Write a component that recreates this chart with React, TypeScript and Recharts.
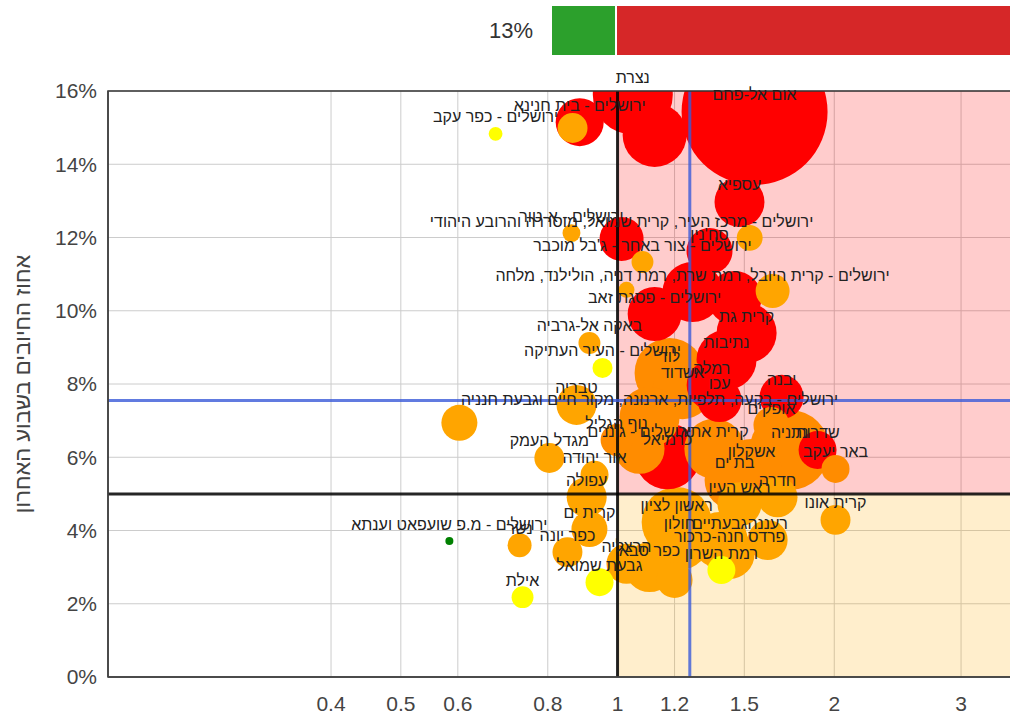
import React from 'react';
import {
  ScatterChart,
  Scatter,
  XAxis,
  YAxis,
  ZAxis,
  CartesianGrid,
  ReferenceArea,
  ReferenceLine,
  Cell,
  BarChart,
  Bar,
  LabelList
} from 'recharts';

// towns and their values (x = transmission ratio, y = share of positive tests, size = active cases)
const towns = [
  'נצרת',
  'ירושלים - בית חנינא',
  'ירושלים - כפר עקב',
  '',
  'אום אל-פחם',
  '',
  'עספיא',
  'ירושלים - מרכז העיר, קרית שמואל, מוסררה והרובע היהודי',
  'ירושלים - א-טור',
  "סח'נין",
  "ירושלים - צור באחר - ג'בל מוכבר",
  '',
  'ירושלים - קרית היובל, רמת שרת, רמת דניה, הולילנד, מלחה',
  'ירושלים - פסגת זאב',
  '',
  '',
  '',
  'קרית גת',
  'באקה אל-גרביה',
  'ירושלים - העיר העתיקה',
  'נתיבות',
  'לוד',
  'רמלה',
  'אשדוד',
  'עכו',
  'יבנה',
  'ירושלים - בקעה, תלפיות, ארנונה, מקור חיים וגבעת חנניה',
  'אופקים',
  'טבריה',
  '',
  'נוף הגליל',
  'ירושלים - גוננים',
  'מגדל העמק',
  'קרית אתא',
  'כרמיאל',
  'נתניה',
  'שדרות',
  'באר יעקב',
  'אשקלון',
  'בת ים',
  'חדרה',
  'ראש העין',
  'אור יהודה',
  'עפולה',
  'קרית אונו',
  'ירושלים - מ.פ שועפאט וענתא',
  'אילת',
  'גבעת שמואל',
  'רמת השרון',
  'כפר סבא',
  'פרדס חנה-כרכור',
  'רעננה',
  'גבעתיים',
  'חולון',
  'ראשון לציון',
  'קרית ים',
  'נשר',
  'כפר יונה',
  'הרצליה',
  ''
];

const ratioR = [
  1.05, 0.886, 0.677, 0.866, 1.55, 1.126, 1.477, 1.013, 0.863, 1.342,
  1.083, 1.526, 1.271, 1.126, 1.454, 1.642, 1.029, 1.511, 0.914, 0.953,
  1.417, 1.181, 1.351, 1.231, 1.386, 1.69, 1.108, 1.636, 0.877, 0.603,
  0.997, 1.073, 0.804, 1.363, 1.173, 1.734, 1.896, 2.008, 1.535, 1.454,
  1.668, 1.477, 0.929, 0.906, 2.008, 0.584, 0.738, 0.944, 1.394, 1.108,
  1.431, 1.616, 1.386, 1.219, 1.208, 0.914, 0.731, 0.852, 1.029, 1.2
];

const positiveRate = [
  15.9, 15.15, 14.83, 14.99, 15.43, 14.8, 12.97, 11.96, 12.12, 11.63,
  11.33, 11.99, 10.51, 9.91, 10.35, 10.54, 10.57, 9.39, 9.12, 8.44,
  8.66, 8.3, 7.97, 7.86, 7.56, 7.65, 7.1, 6.88, 7.43, 6.94,
  6.47, 6.23, 5.98, 6.23, 6.03, 6.2, 6.2, 5.68, 5.68, 5.38,
  4.91, 4.72, 5.52, 4.91, 4.29, 3.71, 2.18, 2.59, 2.92, 3.0,
  3.36, 3.74, 3.74, 3.74, 4.23, 4.04, 3.6, 3.41, 3.09, 2.65
];

const activeCases = [
  400, 144, 12, 56, 1332, 256, 156, 121, 20, 132,
  30, 42, 225, 182, 182, 72, 16, 225, 30, 25,
  225, 306, 156, 225, 121, 121, 225, 81, 100, 81,
  64, 156, 56, 225, 272, 400, 90, 49, 225, 225,
  100, 121, 49, 100, 56, 4, 30, 49, 49, 156,
  156, 100, 196, 225, 306, 81, 36, 56, 100, 81
];

const levels = [
  'red', 'red', 'yellow', 'amber', 'red', 'red', 'red', 'red', 'amber', 'red',
  'amber', 'amber', 'red', 'red', 'red', 'amber', 'amber', 'red', 'amber', 'yellow',
  'red', 'orange', 'red', 'orange', 'red', 'red', 'orange', 'orange', 'amber', 'amber',
  'orange', 'orange', 'amber', 'orange', 'red', 'orange', 'red', 'orange', 'orange', 'orange',
  'amber', 'amber', 'amber', 'amber', 'amber', 'green', 'yellow', 'yellow', 'yellow', 'amber',
  'amber', 'amber', 'amber', 'amber', 'amber', 'amber', 'amber', 'amber', 'amber', 'amber'
];

const X_TICKS = [0.4, 0.5, 0.6, 0.8, 1, 1.2, 1.5, 2, 3];
const Y_TICKS = [0, 2, 4, 6, 8, 10, 12, 14, 16];
const X_DOMAIN = [0.196, 4];
const Y_DOMAIN = [0, 16];

// thresholds
const thresholdR = 1;
const thresholdPositive = 5;
const averageR = 1.26;
const averagePositive = 7.55;

// share bar on top
const greenShare = 13;
const redShare = 87;

const LEVEL_COLORS: Record<string, string> = {
  red: '#ff0000',
  orange: '#ff8c00',
  amber: '#ffa500',
  yellow: '#ffff00',
  green: '#008000'
};

const FONT = "Arial, 'Liberation Sans', 'DejaVu Sans', sans-serif";

const rows = towns
  .map((name, i) => ({
    name,
    r: ratioR[i],
    pos: positiveRate[i],
    cases: activeCases[i],
    level: levels[i]
  }))
  .sort((a, b) => b.cases - a.cases);

const shareData = [{ name: 'share', green: greenShare, red: redShare }];

const TownLabel = (props: any) => {
  const { cx, cy, payload } = props;
  if (!payload || !payload.name) return <g />;
  return (
    <text
      x={cx}
      y={cy - 17}
      textAnchor="middle"
      dominantBaseline="central"
      fontSize={16}
      fill="#222"
      style={{ fontFamily: FONT }}
    >
      {payload.name}
    </text>
  );
};

const YTitle = (props: any) => {
  const { viewBox } = props;
  const x = viewBox.x - 26;
  const y = viewBox.y + viewBox.height / 2;
  return (
    <text
      x={x}
      y={y}
      transform={`rotate(-90, ${x}, ${y})`}
      textAnchor="middle"
      dominantBaseline="central"
      fontSize={22}
      fill="#444"
      style={{ fontFamily: FONT }}
    >
      אחוז החיובים בשבוע האחרון
    </text>
  );
};

export default function App() {
  return (
    <div
      style={{
        position: 'absolute',
        left: 0,
        top: 0,
        width: 1010,
        height: 717,
        overflow: 'hidden',
        background: '#fff',
        fontFamily: FONT
      }}
    >
      {/* share bar */}
      <div style={{ position: 'absolute', left: 0, top: 0 }}>
        <BarChart
          width={1060}
          height={62}
          data={shareData}
          layout="vertical"
          barCategoryGap={0}
          margin={{ top: 5, right: 9, bottom: 6, left: 551 }}
        >
          <XAxis type="number" domain={[0, 100]} hide />
          <YAxis type="category" dataKey="name" hide />
          <Bar dataKey="green" stackId="s" fill="#2ca02c" stroke="#fff" strokeWidth={2} isAnimationActive={false}>
            <LabelList
              dataKey="green"
              position="left"
              offset={18}
              formatter={(v: any) => `${v}%`}
              fill="#333"
              stroke="none"
              fontSize={22}
            />
          </Bar>
          <Bar dataKey="red" stackId="s" fill="#d62728" stroke="#fff" strokeWidth={2} isAnimationActive={false} />
        </BarChart>
      </div>

      {/* bubble chart */}
      <div style={{ position: 'absolute', left: 0, top: 0 }}>
        <ScatterChart width={1060} height={717} margin={{ top: 91, right: 9, bottom: 0, left: 48 }}>
          <CartesianGrid yAxisId="clip" stroke="#cccccc" strokeWidth={1} />
          <XAxis
            dataKey="r"
            type="number"
            scale="log"
            domain={X_DOMAIN}
            ticks={X_TICKS}
            interval={0}
            height={40}
            tickLine={false}
            tickMargin={13}
            axisLine={{ stroke: '#444', strokeWidth: 1.5 }}
            tick={{ fontSize: 21, fill: '#444' }}
          />
          <YAxis
            yAxisId="clip"
            dataKey="pos"
            type="number"
            domain={Y_DOMAIN}
            ticks={Y_TICKS}
            allowDataOverflow
            width={60}
            tickLine={false}
            tickMargin={5}
            axisLine={{ stroke: '#444', strokeWidth: 1.5 }}
            tick={{ fontSize: 21, fill: '#444' }}
            tickFormatter={(v: number) => `${v}%`}
            label={{ content: YTitle }}
          />
          <YAxis yAxisId="free" dataKey="pos" type="number" domain={Y_DOMAIN} hide />
          <ZAxis dataKey="cases" type="number" domain={[0, 1600]} range={[0, 1600 * 4 * Math.PI]} />

          <ReferenceArea
            yAxisId="clip"
            x1={thresholdR}
            x2={X_DOMAIN[1]}
            y1={thresholdPositive}
            y2={Y_DOMAIN[1]}
            fill="#ff0000"
            fillOpacity={0.2}
            stroke="none"
            zIndex={100}
          />
          <ReferenceArea
            yAxisId="clip"
            x1={thresholdR}
            x2={X_DOMAIN[1]}
            y1={Y_DOMAIN[0]}
            y2={thresholdPositive}
            fill="#ffaa00"
            fillOpacity={0.2}
            stroke="none"
            zIndex={100}
          />

          <Scatter yAxisId="clip" data={rows} isAnimationActive={false} zIndex={200}>
            {rows.map((row, i) => (
              <Cell key={i} fill={LEVEL_COLORS[row.level]} />
            ))}
          </Scatter>

          <ReferenceLine yAxisId="clip" x={thresholdR} stroke="#000" strokeOpacity={0.85} strokeWidth={3} zIndex={300} />
          <ReferenceLine yAxisId="clip" y={thresholdPositive} stroke="#000" strokeOpacity={0.85} strokeWidth={3} zIndex={300} />
          <ReferenceLine yAxisId="clip" x={averageR} stroke="#3a5ad8" strokeOpacity={0.8} strokeWidth={3} zIndex={400} />
          <ReferenceLine yAxisId="clip" y={averagePositive} stroke="#3a5ad8" strokeOpacity={0.8} strokeWidth={3} zIndex={400} />

          <ReferenceArea
            yAxisId="clip"
            x1={X_DOMAIN[0]}
            x2={X_DOMAIN[1]}
            y1={Y_DOMAIN[0]}
            y2={Y_DOMAIN[1]}
            fill="none"
            stroke="#333"
            strokeWidth={1.5}
            zIndex={450}
          />

          <Scatter yAxisId="free" data={rows} shape={TownLabel} isAnimationActive={false} zIndex={1500} />
        </ScatterChart>
      </div>
    </div>
  );
}
